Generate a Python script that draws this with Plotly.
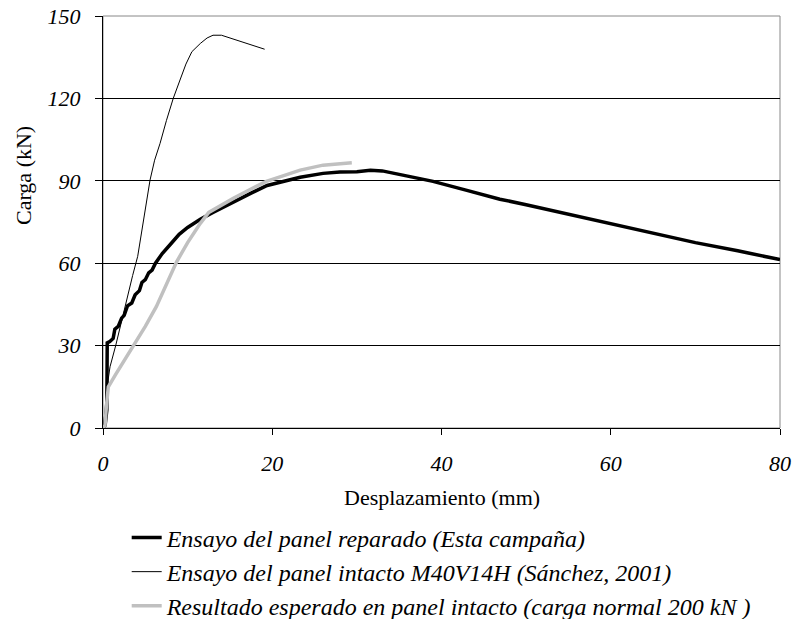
import plotly.graph_objects as go

# Ensayo del panel reparado (Esta campaña)
rep_x = [0.0, 0.25, 0.45, 0.45, 0.5, 0.8, 1.2, 1.4, 1.8, 2.2, 2.5, 2.9, 3.4, 3.8, 4.3, 4.6,
         5.0, 5.4, 5.8, 6.2, 7.0, 8.0, 9.0, 10.0, 11.5, 13.0, 15.4, 17.5, 19.4, 21.0, 23.3,
         26.0, 28.0, 30.0, 31.6, 33.0, 36.0, 39.0, 43.0, 46.9, 50.0, 55.0, 58.7, 62.0, 66.0,
         70.0, 75.0, 80.0]
rep_y = [0, 1, 6.5, 20, 31, 31.5, 32.6, 36, 37, 40, 41, 44.5, 45.5, 48.5, 50, 53,
         54, 56.5, 57.5, 60, 63.5, 67, 70.5, 73, 76, 78.5, 82.4, 85.5, 88.3, 89.5, 91.3,
         92.7, 93.2, 93.3, 93.8, 93.6, 91.6, 89.8, 86.5, 83.3, 81.3, 77.8, 75.2, 73, 70,
         67.5, 64.5, 61.3]

# Ensayo del panel intacto M40V14H (Sánchez, 2001)
int_x = [0, 0.2, 0.43, 0.83, 1.5, 2.1, 2.8, 3.5, 4.1, 4.96, 5.56, 6.1, 6.74, 7.5, 8.3,
         9.1, 9.8, 10.5, 11.5, 12.3, 13.0, 14.0, 16.5, 19.1]
int_y = [0, 5, 13.8, 22.3, 30, 38, 46.6, 55.5, 62.5, 79.4, 90.3, 97.5, 103.6, 112, 120,
         126.7, 132.5, 137, 140, 142, 143, 143, 140.6, 137.9]

# Resultado esperado en panel intacto (carga normal 200 kN)
exp_x = [0, 0.24, 0.4, 0.63, 1.5, 2.5, 3.6, 5.0, 6.3, 7.5, 8.7, 10.0, 11.5, 12.5, 14.0,
         15.4, 17.5, 19.3, 21.0, 23.3, 26.0, 27.5, 29.4]
exp_y = [0, 1, 8, 15, 19.5, 24.5, 29.6, 37, 44.2, 52, 60.5, 67.5, 74.5, 78.5, 81.3,
         83.6, 87, 89.8, 91.5, 93.9, 95.7, 96.0, 96.6]

names = ["Ensayo del panel reparado (Esta campaña)",
         "Ensayo del panel intacto M40V14H (Sánchez, 2001)",
         "Resultado esperado en panel intacto (carga normal 200 kN )"]

x_ticks = [0, 20, 40, 60, 80]
y_ticks = [0, 30, 60, 90, 120, 150]

SERIF = "Liberation Serif"
FS = 22

fig = go.Figure()
fig.add_trace(go.Scatter(x=rep_x, y=rep_y, mode="lines", name=names[0], legendgroup="a",
                         line=dict(color="black", width=3.5)))
fig.add_trace(go.Scatter(x=int_x, y=int_y, mode="lines", name=names[1], legendgroup="b",
                         line=dict(color="black", width=1)))
fig.add_trace(go.Scatter(x=exp_x, y=exp_y, mode="lines", name=names[2], legendgroup="c",
                         line=dict(color="#c0c0c0", width=3.5)))

fig.update_layout(
    width=793, height=619,
    margin=dict(l=103, r=13, t=16, b=191, autoexpand=False),
    plot_bgcolor="white", paper_bgcolor="white",
    font=dict(family=SERIF, size=FS, color="black"),
    showlegend=True,
    legend=dict(x=0.035, y=-0.212, xanchor="left", yanchor="top",
                font=dict(family=SERIF, size=24, style="italic"),
                bgcolor="rgba(0,0,0,0)", borderwidth=0,
                traceorder="grouped", tracegroupgap=0),
    xaxis=dict(range=[0, 80], tickvals=x_ticks, showgrid=False, zeroline=False,
               showline=True, linecolor="black", linewidth=1, automargin=False,
               ticks="outside", ticklen=6, tickcolor="black",
               tickfont=dict(family=SERIF, size=FS, style="italic"), ticklabelstandoff=10),
    yaxis=dict(range=[0, 150], tickvals=y_ticks, showgrid=True, gridcolor="black",
               gridwidth=1, zeroline=False, automargin=False,
               showline=True, linecolor="black", linewidth=1,
               ticks="outside", ticklen=7, tickcolor="black",
               tickfont=dict(family=SERIF, size=FS, style="italic"), ticklabelstandoff=10),
    shapes=[dict(type="rect", xref="paper", yref="paper", x0=0, x1=1, y0=0, y1=1,
                 line=dict(color="#888888", width=1), layer="below")],
    annotations=[
        dict(text="Carga (kN)", xref="paper", yref="paper", x=(23 - 103) / 677,
             y=(428 - 176) / 412, textangle=-90, showarrow=False,
             xanchor="center", yanchor="middle", font=dict(family=SERIF, size=FS)),
        dict(text="Desplazamiento (mm)", xref="paper", yref="paper", x=0.5,
             y=(428 - 498) / 412, showarrow=False,
             xanchor="center", yanchor="middle", font=dict(family=SERIF, size=FS)),
    ],
)

fig.write_html("out.html")
